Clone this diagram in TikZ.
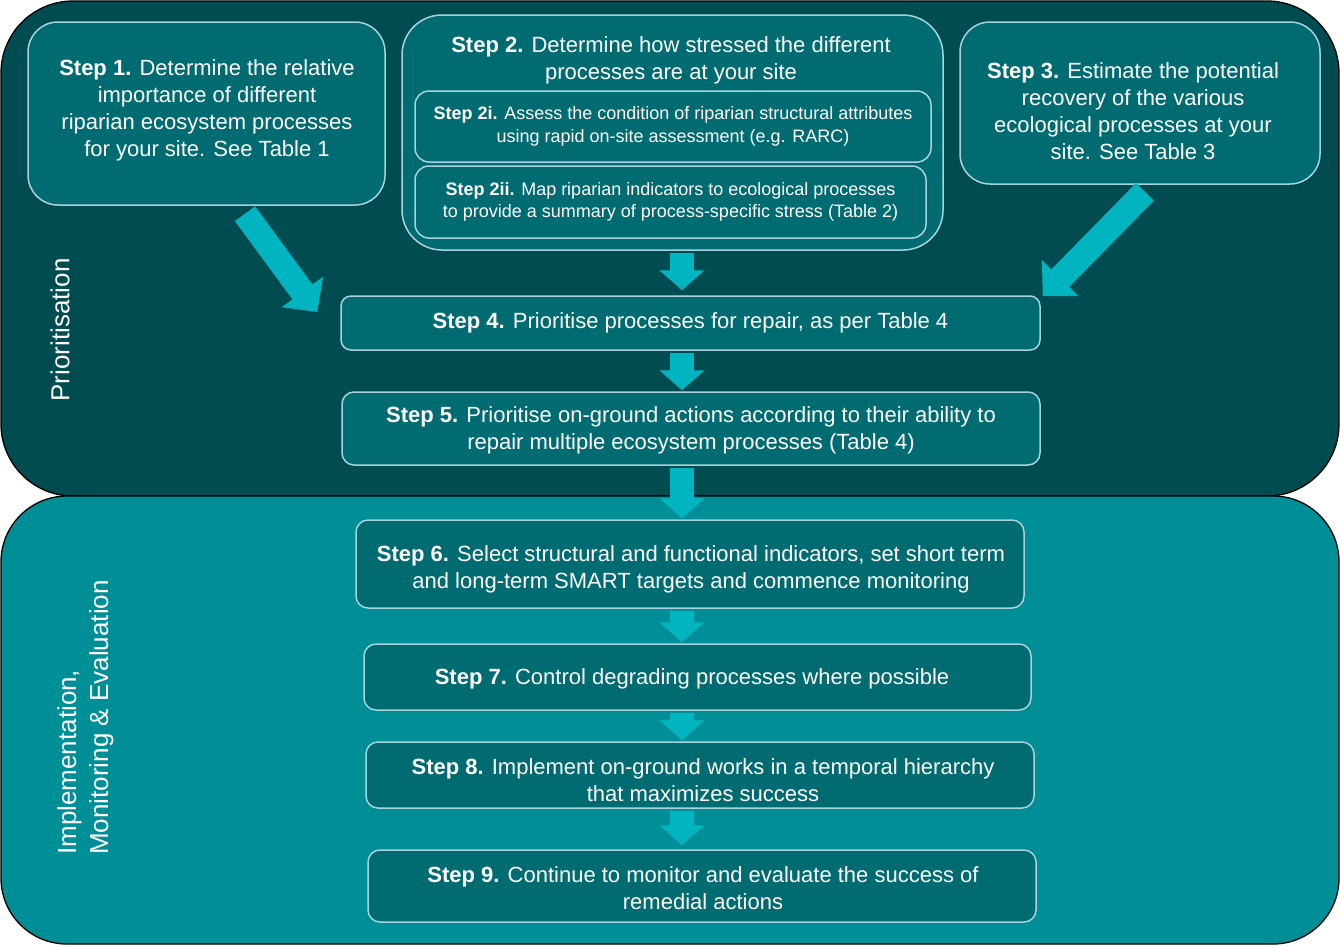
\documentclass[tikz,border=0pt]{standalone}
\usepackage{fontspec}
\setmainfont{Liberation Sans}
\usetikzlibrary{arrows.meta,calc}
\definecolor{panelA}{HTML}{004C50}
\definecolor{panelB}{HTML}{008F96}
\definecolor{boxfill}{HTML}{006B70}
\definecolor{boxline}{HTML}{A8D2DE}
\definecolor{arrowc}{HTML}{00B5BF}
\begin{document}
\begin{tikzpicture}[x=1pt,y=-1pt,
  stepbox/.style={draw=boxline, line width=1.5pt, fill=boxfill, inner sep=0pt, text=white, align=center,
    font=\fontsize{22}{27}\selectfont},
  txt/.style={text=white, align=center, inner sep=0pt, font=\fontsize{22}{27}\selectfont},
  sidetxt/.style={text=white, inner sep=0pt, rotate=90, align=left, font=\fontsize{26}{32}\selectfont},
  panel/.style={draw=black, line width=1.3pt},
  flowarrow/.style={draw=arrowc, line width=24pt, -{Triangle[width=44pt,length=20pt]}, shorten <=2pt, shorten >=1pt},
  diagarrow/.style={draw=arrowc, line width=25pt, -{Triangle[width=50pt,length=25pt]}}
]
\useasboundingbox (0,0) rectangle (1340,946);

% panels
\draw[panel, fill=panelA, rounded corners=72pt] (1,1) rectangle (1339,496);
\draw[panel, fill=panelB, rounded corners=66pt] (1,496) rectangle (1339,944);

% side labels
\node[sidetxt] (lp) at (60,330) {Prioritisation};
\node[sidetxt, anchor=north west] (li) at (57,855) {Implementation,\\Monitoring \& Evaluation};

% step 1
\node[stepbox, rounded corners=30pt, minimum width=357pt, minimum height=183pt] (s1) at (206.5,113.5) {};
\node[txt] (t1) at (207,110) {\textbf{Step 1.} Determine the relative\\importance of different\\riparian ecosystem processes\\for your site. See Table 1};

% step 2
\node[stepbox, rounded corners=40pt, minimum width=541pt, minimum height=235pt] (s2) at (672.5,132.5) {};
\node[txt] (t2) at (671,60.5) {\textbf{Step 2.} Determine how stressed the different\\processes are at your site};
\node[stepbox, rounded corners=14pt, minimum width=516pt, minimum height=71pt, font=\fontsize{18}{22.5}\selectfont] (s2i) at (673,126.5)
  {\textbf{Step 2i.} Assess the condition of riparian structural attributes\\using rapid on-site assessment (e.g. RARC)};
\node[stepbox, rounded corners=14pt, minimum width=511pt, minimum height=72pt, font=\fontsize{18}{22.5}\selectfont] (s2ii) at (670.5,202)
  {\textbf{Step 2ii.} Map riparian indicators to ecological processes\\to provide a summary of process-specific stress (Table 2)};

% step 3
\node[stepbox, rounded corners=30pt, minimum width=360pt, minimum height=162pt] (s3) at (1140,103) {};
\node[txt] (t3) at (1133,111) {\textbf{Step 3.} Estimate the potential\\recovery of the various\\ecological processes at your\\site. See Table 3};

% steps 4-9
\node[stepbox, rounded corners=10pt, minimum width=699pt, minimum height=54pt] (s4) at (690.5,323)
  {\textbf{Step 4.} Prioritise processes for repair, as per Table 4};
\node[stepbox, rounded corners=12pt, minimum width=698pt, minimum height=73pt] (s5) at (691,428.5) {};
\node[txt] (t5) at (691,430.5)
  {\textbf{Step 5.} Prioritise on-ground actions according to their ability to\\repair multiple ecosystem processes (Table 4)};
\node[stepbox, rounded corners=12pt, minimum width=668pt, minimum height=88pt] (s6) at (690,564) {};
\node[txt] (t6) at (691,569)
  {\textbf{Step 6.} Select structural and functional indicators, set short term\\and long-term SMART targets and commence monitoring};
\node[stepbox, rounded corners=12pt, minimum width=667pt, minimum height=66pt] (s7) at (697.5,677) {};
\node[txt] (t7) at (692,679)
  {\textbf{Step 7.} Control degrading processes where possible};
\node[stepbox, rounded corners=12pt, minimum width=668pt, minimum height=66pt] (s8) at (700,775) {};
\node[txt] (t8) at (703,780)
  {\textbf{Step 8.} Implement on-ground works in a temporal hierarchy\\that maximizes success};
\node[stepbox, rounded corners=12pt, minimum width=668pt, minimum height=72pt] (s9) at (702,886) {};
\node[txt] (t9) at (703,888.5)
  {\textbf{Step 9.} Continue to monitor and evaluate the success of\\remedial actions};

% arrows
\coordinate (ax) at (682,0);
\draw[flowarrow, shorten >=5pt] (ax |- s2.south) -- (ax |- s4.north);
\draw[flowarrow] (ax |- s4.south) -- (ax |- s5.north);
\draw[flowarrow] (ax |- s5.south) -- (ax |- s6.north);
\draw[flowarrow] (ax |- s6.south) -- (ax |- s7.north);
\draw[flowarrow] (ax |- s7.south) -- (ax |- s8.north);
\draw[flowarrow, shorten >=4pt] (ax |- s8.south) -- (ax |- s9.north);

\coordinate (d1s) at ($(s1.south)+(38.5,8)$);
\coordinate (d1e) at ($(s4.west)+(-23,-11)$);
\draw[diagarrow] (d1s) -- (d1e);
\coordinate (d3s) at ($(s3.south)+(5,7)$);
\coordinate (d3e) at ($(s4.east)+(2,-27)$);
\draw[diagarrow] (d3s) -- (d3e);
\end{tikzpicture}
\end{document}
